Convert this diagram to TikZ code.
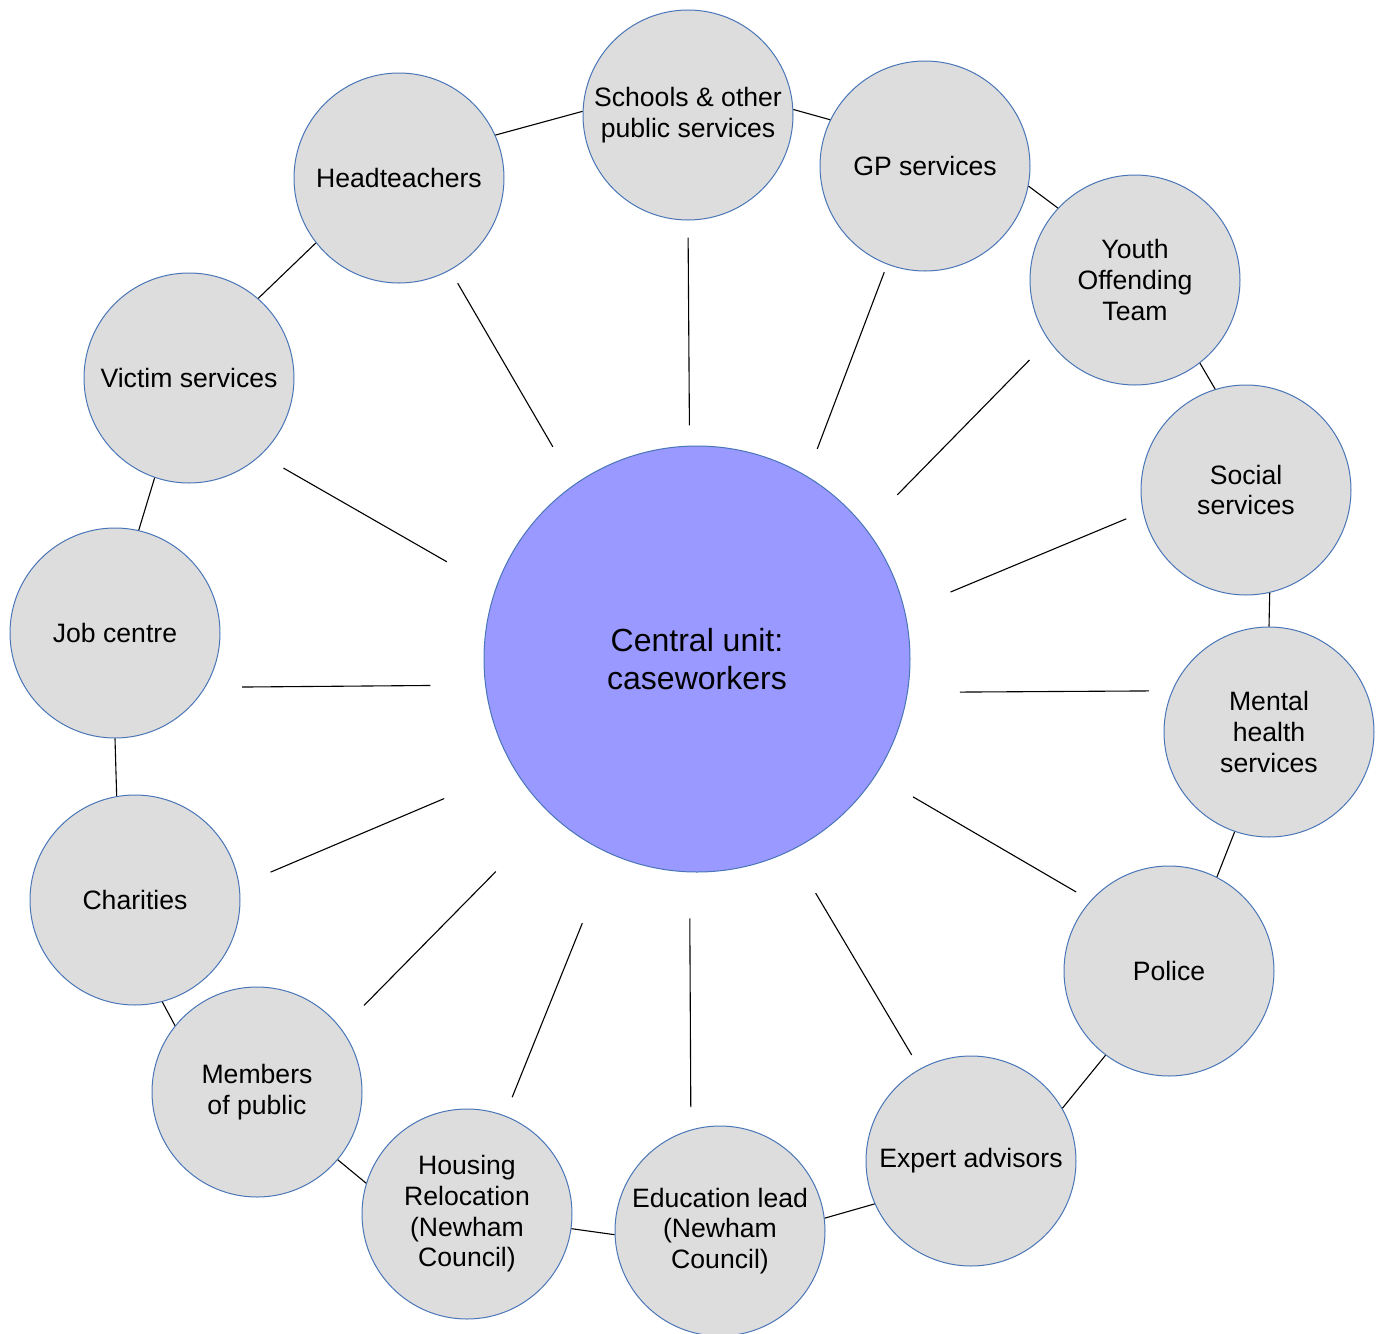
\documentclass[tikz,border=0pt]{standalone}
\usepackage{fontspec}
\setmainfont{Liberation Sans}
\definecolor{ringfill}{HTML}{DDDDDD}
\definecolor{ringdraw}{HTML}{4A76B8}
\definecolor{hubfill}{HTML}{9999FF}
\begin{document}
\begin{tikzpicture}[x=0.5pt,y=-0.5pt,
  outer/.style={circle, draw=ringdraw, fill=ringfill, minimum size=105pt, inner sep=0pt,
    align=center, font=\fontsize{13.3}{15.3}\selectfont, line width=0.5pt},
  hubnode/.style={circle, draw=ringdraw, fill=hubfill, minimum size=213pt, inner sep=0pt,
    align=center, font=\fontsize{16}{19}\selectfont, line width=0.5pt},
  link/.style={line width=0.55pt, black}]
\useasboundingbox (0,0) rectangle (1383,1334);

\node[hubnode] (hub) at (697,659) {Central unit:\\caseworkers};

\node[outer] (schools) at (688,115) {Schools \& other\\public services};
\node[outer] (gp) at (925,166) {GP services};
\node[outer] (yot) at (1135,280) {Youth\\Offending\\Team};
\node[outer] (social) at (1246,490) {Social\\services};
\node[outer] (mental) at (1269,732) {Mental\\health\\services};
\node[outer] (police) at (1169,971) {Police};
\node[outer] (expert) at (971,1161) {Expert advisors};
\node[outer] (edu) at (720,1231) {Education lead\\(Newham\\Council)};
\node[outer] (housing) at (467,1214) {Housing\\Relocation\\(Newham\\Council)};
\node[outer] (members) at (257,1092) {Members\\of public};
\node[outer] (charities) at (135,900) {Charities};
\node[outer] (job) at (115,633) {Job centre};
\node[outer] (victim) at (189,378) {Victim services};
\node[outer] (head) at (399,178) {Headteachers};

% ring links
\draw[link] (head.24.9) -- (schools.178.4);
\draw[link] (schools.3.8) -- (gp.154.2);
\draw[link] (gp.-11.3) -- (yot.137.6);
\draw[link] (yot.-52) -- (social.107.4);
\draw[link] (social.-77.8) -- (mental.90);
\draw[link] (mental.-109.7) -- (police.63.2);
\draw[link] (police.-127.6) -- (expert.30.5);
\draw[link] (expert.204.6) -- (edu.7.6);
\draw[link] (edu.182.7) -- (housing.-8.7);
\draw[link] (housing.163) -- (members.-40.5);
\draw[link] (members.141.5) -- (charities.-75.3);
\draw[link] (charities.100.9) -- (job.-90);
\draw[link] (job.77.6) -- (victim.-109.6);
\draw[link] (victim.49.6) -- (head.218.4);

% spokes
\draw[link, shorten <=10.1pt, shorten >=8.5pt] (hub.92.4) -- (schools.-90);
\draw[link, shorten <=14.5pt, shorten >=4.15pt] (hub.59.75) -- (gp.249.4);
\draw[link, shorten <=22.9pt, shorten >=13.65pt] (hub.38.52) -- (yot.215.3);
\draw[link, shorten <=24.7pt, shorten >=8.95pt] (hub.13.47) -- (social.192.8);
\draw[link, shorten <=26pt, shorten >=11.5pt] (hub.-9.61) -- (mental.157.47);
\draw[link, shorten <=21.4pt, shorten >=8.35pt] (hub.-33.9) -- (police.138.4);
\draw[link, shorten <=24.6pt, shorten >=8pt] (hub.-64.86) -- (expert.119.53);
\draw[link, shorten <=23pt, shorten >=11.2pt] (hub.268.1) -- (edu.106.6);
\draw[link, shorten <=37.3pt, shorten >=9.9pt] (hub.246.4) -- (housing.69.88);
\draw[link, shorten <=39.6pt, shorten >=16.2pt] (hub.227.55) -- (members.37.72);
\draw[link, shorten <=37.9pt, shorten >=16.9pt] (hub.211.9) -- (charities.8.97);
\draw[link, shorten <=27.4pt, shorten >=18.3pt] (hub.187.5) -- (job.-31.71);
\draw[link, shorten <=27.8pt, shorten >=13pt] (hub.161.36) -- (victim.-47.11);
\draw[link, shorten <=21.6pt, shorten >=7.5pt] (hub.125.42) -- (head.-61.23);
\end{tikzpicture}
\end{document}
